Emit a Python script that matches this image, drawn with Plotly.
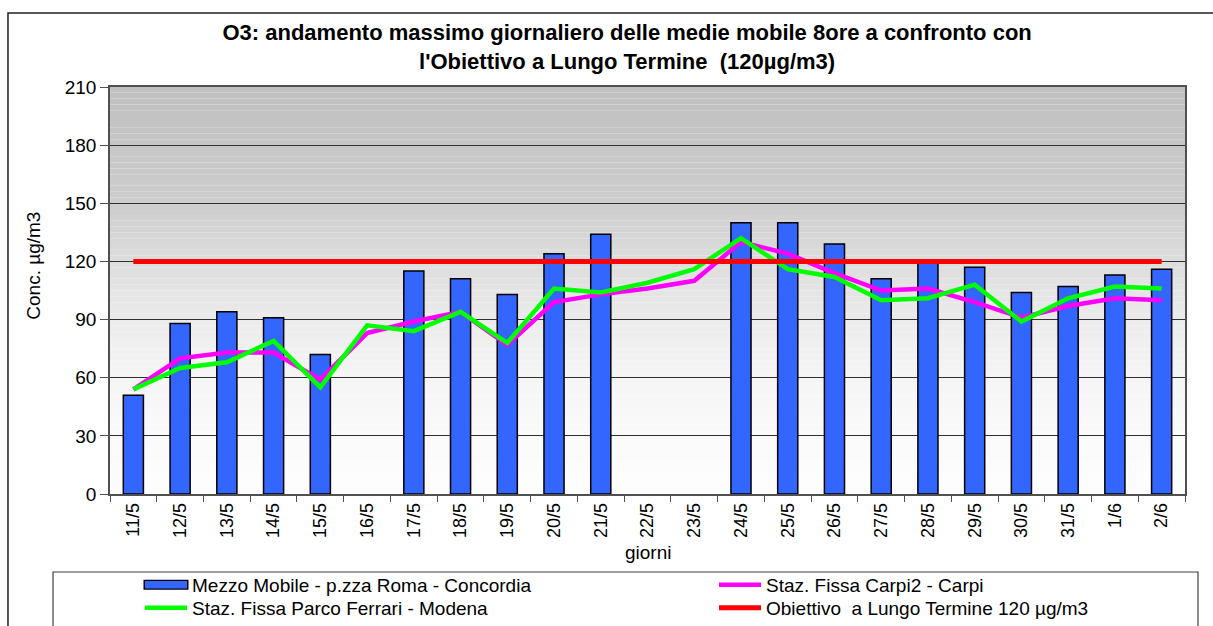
import numpy as np
import plotly.graph_objects as go

giorni = ["11/5", "12/5", "13/5", "14/5", "15/5", "16/5", "17/5", "18/5", "19/5", "20/5",
          "21/5", "22/5", "23/5", "24/5", "25/5", "26/5", "27/5", "28/5", "29/5", "30/5",
          "31/5", "1/6", "2/6"]
mezzo_mobile = [51, 88, 94, 91, 72, None, 115, 111, 103, 124, 134, None, None, 140, 140,
                129, 111, 119, 117, 104, 107, 113, 116]
carpi = [54, 70, 73, 73, 59, 83, 89, 94, 77, 99, 103, 106, 110, 130, 124, 114, 105, 106,
         99, 91, 97, 101, 100]
modena = [54, 65, 68, 79, 55, 87, 84, 94, 78, 106, 104, 109, 116, 132, 116, 112, 100, 101,
          108, 89, 101, 107, 106]
obiettivo = [120, 120, 120, 120, 120, 120, 120, 120, 120, 120, 120, 120, 120, 120, 120,
             120, 120, 120, 120, 120, 120, 120, 120]

FONT = "Liberation Sans, Arial, sans-serif"
W, H = 1213, 626
NAME_MEZZO = "Mezzo Mobile - p.zza Roma - Concordia"

fig = go.Figure()
fig.add_trace(go.Bar(x=giorni, y=mezzo_mobile, name=NAME_MEZZO,
                     marker=dict(color="#3366FF", line=dict(color="black", width=1.5)),
                     width=0.43, showlegend=False, legendgroup="mezzo"))
fig.add_trace(go.Scatter(x=giorni, y=carpi, name="Staz. Fissa Carpi2 - Carpi", mode="lines",
                         line=dict(color="#FF00FF", width=4.5), legend="legend2"))
fig.add_trace(go.Scatter(x=giorni, y=modena, name="Staz. Fissa Parco Ferrari - Modena", mode="lines",
                         line=dict(color="#00FF00", width=4.5), legend="legend3"))
fig.add_trace(go.Scatter(x=giorni, y=obiettivo, name="Obiettivo  a Lungo Termine 120 µg/m3", mode="lines",
                         line=dict(color="#FF0000", width=5), legend="legend4"))
# legend key for the bar series (rectangle with black outline)
fig.add_trace(go.Scatter(x=[None], y=[None], name=" ", mode="lines", legendgroup="mezzo",
                         line=dict(color="black", width=11), legend="legend", hoverinfo="skip"))
fig.add_trace(go.Scatter(x=[None], y=[None], name=NAME_MEZZO, mode="lines", legendgroup="mezzo",
                         line=dict(color="#3366FF", width=7.5), legend="legend5", hoverinfo="skip"))

# gradient plot background as stacked bands
stops_f = [0, 0.143, 0.286, 0.429, 0.571, 0.714, 0.857, 1.0]
stops_v = [192, 198, 205, 221, 235, 245, 250, 254]
shapes = []
N = 70
for i in range(N):
    f0 = i / N
    v = int(round(np.interp((i + 0.5) / N, stops_f, stops_v)))
    col = f"rgb({v},{v},{v})"
    shapes.append(dict(type="rect", xref="paper", yref="paper", x0=0, x1=1,
                       y0=1 - (i + 1) / N, y1=1 - f0, fillcolor=col, line=dict(width=0),
                       layer="below"))
# outer frame
shapes.append(dict(type="rect", xref="paper", yref="paper", x0=-0.0949, x1=1.2,
                   y0=-0.5, y1=1.1818, line=dict(color="#202020", width=1.5),
                   fillcolor="rgba(0,0,0,0)", layer="above"))
# legend box
shapes.append(dict(type="rect", xref="paper", yref="paper", x0=-0.053, x1=1.0121,
                   y0=-0.4, y1=-0.1916, line=dict(color="#404040", width=1.2),
                   fillcolor="rgba(0,0,0,0)", layer="above"))

leg_common = dict(orientation="v", xref="container", yref="container", xanchor="left", yanchor="middle",
                  font=dict(family=FONT, size=19, color="black"),
                  bgcolor="rgba(0,0,0,0)", borderwidth=0,
                  traceorder="normal", tracegroupgap=0)

X1, X2 = 140, 714
Y1, Y2 = 585, 608

fig.update_layout(
    width=W, height=H,
    margin=dict(l=110, r=28, t=87, b=132, autoexpand=False),
    paper_bgcolor="white", plot_bgcolor="white",
    font=dict(family=FONT, color="black", size=18),
    title=dict(text="<b>O3: andamento massimo giornaliero delle medie mobile 8ore a confronto con<br>"
                    "l'Obiettivo a Lungo Termine  (120µg/m3)</b>",
               x=0.517, xanchor="center", y=1 - 40 / H, yanchor="top",
               font=dict(family=FONT, size=22, color="black")),
    barmode="overlay",
    showlegend=True,
    legend=dict(x=(X1 - 1.5) / W, y=1 - Y1 / H, itemwidth=45, **leg_common),
    legend5=dict(x=X1 / W, y=1 - Y1 / H, itemwidth=42, **leg_common),
    legend2=dict(x=X2 / W, y=1 - Y1 / H, itemwidth=42, **leg_common),
    legend3=dict(x=X1 / W, y=1 - Y2 / H, itemwidth=42, **leg_common),
    legend4=dict(x=X2 / W, y=1 - Y2 / H, itemwidth=42, **leg_common),
    shapes=shapes,
    annotations=[
        dict(text="Conc. µg/m3", xref="paper", yref="paper", x=-0.072, y=0.56,
             textangle=-90, showarrow=False, font=dict(family=FONT, size=19, color="black"),
             xanchor="center", yanchor="middle"),
        dict(text="giorni", xref="paper", yref="paper", x=0.5, y=-0.143,
             showarrow=False, font=dict(family=FONT, size=19, color="black"),
             xanchor="center", yanchor="middle"),
    ],
)

fig.update_xaxes(type="category", showgrid=False, showline=True, linecolor="#505050", linewidth=1.5,
                 mirror=True, ticks="outside", ticklen=6, tickcolor="#505050", tickson="boundaries",
                 tickangle=-90, tickfont=dict(family=FONT, size=18, color="black"),
                 range=[-0.5, 22.5])
fig.update_yaxes(range=[0, 210], dtick=30, showgrid=True, gridcolor="#303030", gridwidth=1,
                 showline=True, linecolor="#505050", linewidth=1.5, mirror=True,
                 ticks="outside", ticklen=8, tickcolor="#505050",
                 tickfont=dict(family=FONT, size=19, color="black"), zeroline=False)

fig.write_html("out.html", config={"displayModeBar": False},
               post_script="document.body.style.margin='0px';document.body.style.overflow='hidden';")
